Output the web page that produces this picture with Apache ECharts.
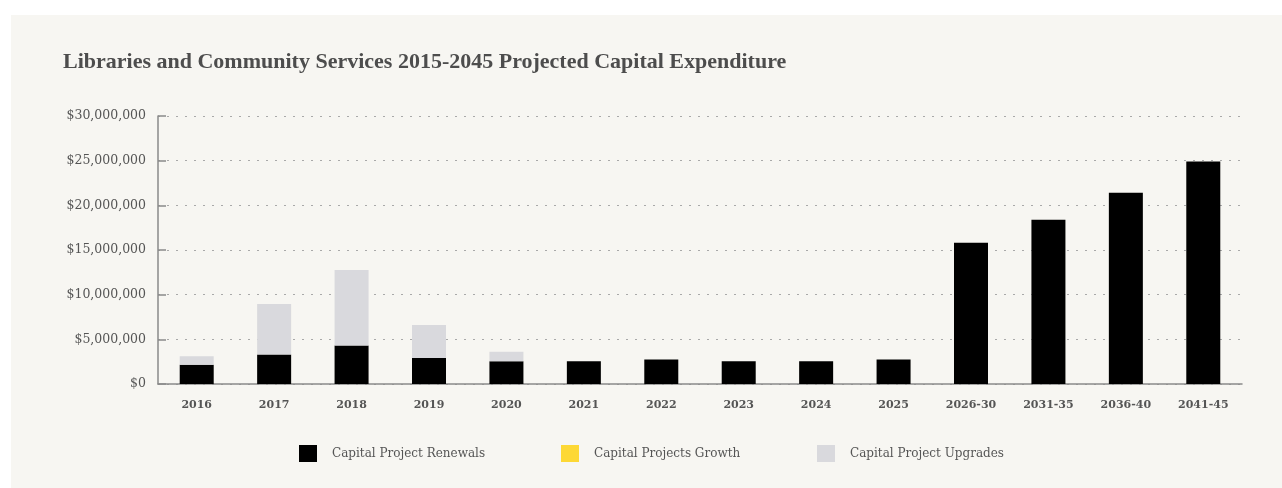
<!DOCTYPE html>
<html>
<head>
<meta charset="utf-8">
<script src="https://cdn.jsdelivr.net/npm/echarts@6/dist/echarts.min.js"></script>
<style>
  html, body { margin: 0; padding: 0; background: #ffffff; width: 1282px; height: 488px; overflow: hidden; }
  #panel { position: absolute; left: 11px; top: 15px; width: 1271px; height: 473px; background: #f7f6f2; }
  #chart { width: 100%; height: 100%; }
</style>
</head>
<body>
<div id="panel"><div id="chart"></div></div>
<script>
// Periods on the category axis
const categories = ['2016', '2017', '2018', '2019', '2020', '2021', '2022', '2023', '2024', '2025',
  '2026-30', '2031-35', '2036-40', '2041-45'];

// Projected spend per period, in dollars
const renewals = [2150000, 3300000, 4300000, 2900000, 2550000, 2550000, 2750000, 2550000, 2550000, 2750000,
  15800000, 18400000, 21400000, 24900000];
const growth = [0, 0, 0, 0, 0, 0, 0, 0, 0, 0, 0, 0, 0, 0];
const upgrades = [950000, 5650000, 8450000, 3700000, 1050000, 0, 0, 0, 0, 0, 0, 0, 0, 0];

// Value axis range
const yMin = 0;
const yMax = 30000000;
const yStep = 5000000;

const serif = 'DejaVu Serif';
const textGrey = '#555555';

function money(v) {
  return '$' + Number(v).toLocaleString('en-US');
}

const chart = echarts.init(document.getElementById('chart'), null, { renderer: 'canvas' });

function legendAt(name, left) {
  return {
    data: [{ name: name, icon: 'rect' }],
    left: left,
    top: 425,
    itemWidth: 18,
    itemHeight: 17,
    itemGap: 14,
    selectedMode: false,
    textStyle: { fontFamily: serif, fontSize: 12, color: textGrey, padding: [0, 0, 0, 10] }
  };
}

chart.setOption({
  animation: false,
  backgroundColor: 'transparent',
  title: {
    text: 'Libraries and Community Services 2015-2045 Projected Capital Expenditure',
    left: 47,
    top: 31,
    textStyle: { fontFamily: 'Liberation Serif', fontWeight: 'bold', fontSize: 22, color: '#4d4d4d' }
  },
  legend: [
    legendAt('Capital Project Renewals', 283),
    legendAt('Capital Projects Growth', 545),
    legendAt('Capital Project Upgrades', 801)
  ],
  grid: { left: 147, right: 40, top: 101, bottom: 104, containLabel: false },
  xAxis: {
    type: 'category',
    data: categories,
    axisLine: { show: true, lineStyle: { color: '#8a8a8a', width: 1.5 } },
    axisTick: { show: false },
    axisLabel: { fontFamily: serif, fontWeight: 'bold', fontSize: 11, color: textGrey, margin: 16 }
  },
  yAxis: {
    type: 'value',
    min: yMin,
    max: yMax,
    interval: yStep,
    axisLine: { show: true, lineStyle: { color: '#8a8a8a', width: 1.5 } },
    axisTick: { show: true, inside: true, length: 8, lineStyle: { color: '#8a8a8a', width: 1.5 } },
    axisLabel: { fontFamily: serif, fontSize: 12.5, color: textGrey, margin: 12, formatter: money },
    splitLine: { show: true, lineStyle: { color: '#a9a9a9', width: 1.2, type: [2, 7] } }
  },
  series: [
    {
      name: 'Capital Project Renewals', type: 'bar', stack: 'spend', data: renewals,
      barWidth: 34, itemStyle: { color: '#000000' }
    },
    {
      name: 'Capital Projects Growth', type: 'bar', stack: 'spend', data: growth,
      barWidth: 34, itemStyle: { color: '#fdd835' }
    },
    {
      name: 'Capital Project Upgrades', type: 'bar', stack: 'spend', data: upgrades,
      barWidth: 34, itemStyle: { color: '#d9d9dd' }
    }
  ]
});
</script>
</body>
</html>
